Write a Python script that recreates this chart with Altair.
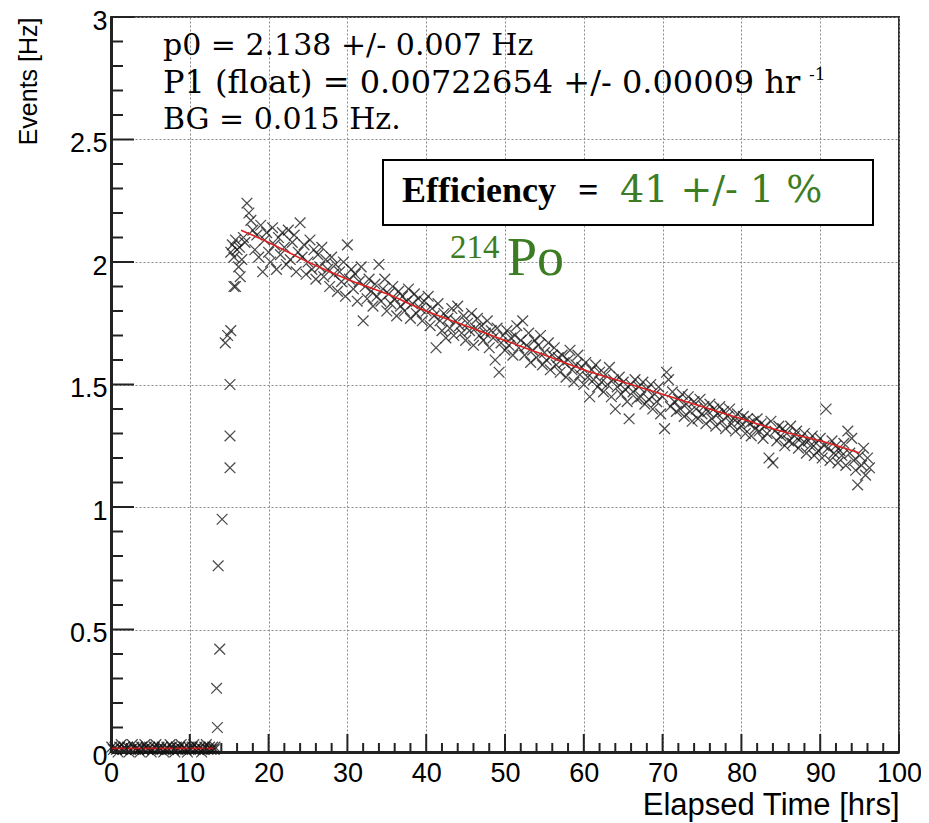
import altair as alt
import pandas as pd

# ---------------- data ----------------
# background period (bins of 0.2 h starting at 0.1 h)
BASE_START, BASE_STEP = 0.1, 0.2
base_y = [0.02, 0.01, 0.02, 0.01, 0.00, 0.02, 0.03, 0.01, 0.02, 0.01,
          0.02, 0.00, 0.01, 0.03, 0.02, 0.01, 0.02, 0.01, 0.00, 0.02,
          0.01, 0.03, 0.02, 0.01, 0.02, 0.00, 0.01, 0.02, 0.03, 0.01,
          0.02, 0.01, 0.02, 0.00, 0.01, 0.02, 0.01, 0.03, 0.02, 0.01,
          0.00, 0.02, 0.01, 0.02, 0.03, 0.01, 0.02, 0.01, 0.00, 0.02,
          0.01, 0.02, 0.03, 0.01, 0.02, 0.01, 0.02, 0.00, 0.01, 0.02,
          0.03, 0.01, 0.02, 0.01, 0.02, 0.01]

# rise of the rate
rise_x = [13.2, 13.5, 13.4, 13.8, 13.6, 14.1, 15.1, 15.1, 15.1, 14.5, 14.8, 15.2,
          15.6, 15.8, 16.4, 16.2, 15.2, 15.4, 15.6, 15.8, 16.0, 16.3, 16.6, 16.8]
rise_y = [0.02, 0.10, 0.26, 0.42, 0.76, 0.95, 1.16, 1.29, 1.50, 1.67, 1.70, 1.72,
          1.90, 1.90, 1.94, 1.98, 2.04, 2.07, 2.02, 2.09, 2.05, 2.06, 2.01, 2.10]

# decay period (bins of 0.25 h starting at 17 h)
DECAY_START, DECAY_STEP = 17.0, 0.25
decay_y = [
    2.08, 2.24, 2.20, 2.17, 2.13, 2.05, 2.11, 2.02, 2.15, 1.96, 2.09, 2.12, 2.04, 2.00, 2.14, 2.07, 1.97, 2.10, 2.03, 2.12,
    2.06, 1.99, 2.13, 2.01, 2.08, 2.11, 1.96, 2.04, 2.16, 2.02, 2.07, 1.95, 2.00, 2.09, 1.97, 2.05, 1.93, 2.03, 1.98, 2.06,
    1.94, 2.01, 1.97, 1.90, 2.02, 1.95, 1.99, 1.88, 1.96, 1.92, 2.00, 1.86, 2.07, 1.93, 1.97, 1.89, 1.95, 1.84, 1.92, 1.98,
    1.76, 1.90, 1.85, 1.93, 1.88, 1.82, 1.91, 1.86, 1.99, 1.84, 1.89, 1.93, 1.80, 1.87, 1.83, 1.90, 1.85, 1.78, 1.88, 1.82,
    1.86, 1.80, 1.84, 1.89, 1.77, 1.83, 1.87, 1.79, 1.85, 1.81, 1.76, 1.84, 1.80, 1.86, 1.74, 1.81, 1.78, 1.65, 1.83, 1.76,
    1.72, 1.79, 1.69, 1.77, 1.73, 1.81, 1.70, 1.76, 1.82, 1.74, 1.71, 1.78, 1.68, 1.75, 1.72, 1.79, 1.66, 1.73, 1.77, 1.70,
    1.74, 1.68, 1.71, 1.76, 1.65, 1.72, 1.69, 1.60, 1.73, 1.55, 1.67, 1.70, 1.64, 1.72, 1.66, 1.69, 1.62, 1.70, 1.74, 1.65,
    1.68, 1.76, 1.62, 1.66, 1.71, 1.59, 1.64, 1.68, 1.61, 1.66, 1.70, 1.58, 1.63, 1.60, 1.67, 1.56, 1.62, 1.65, 1.58, 1.61,
    1.55, 1.62, 1.59, 1.53, 1.60, 1.64, 1.56, 1.51, 1.58, 1.62, 1.54, 1.57, 1.50, 1.59, 1.53, 1.45, 1.56, 1.52, 1.58, 1.49,
    1.55, 1.51, 1.47, 1.54, 1.50, 1.57, 1.45, 1.52, 1.40, 1.49, 1.53, 1.46, 1.51, 1.48, 1.43, 1.36, 1.50, 1.47, 1.52, 1.44,
    1.49, 1.45, 1.51, 1.42, 1.48, 1.44, 1.50, 1.40, 1.46, 1.43, 1.49, 1.38, 1.45, 1.32, 1.55, 1.52, 1.41, 1.47, 1.43, 1.39,
    1.44, 1.40, 1.46, 1.37, 1.42, 1.45, 1.39, 1.35, 1.43, 1.40, 1.36, 1.44, 1.38, 1.41, 1.34, 1.39, 1.42, 1.36, 1.40, 1.33,
    1.38, 1.41, 1.35, 1.39, 1.32, 1.37, 1.40, 1.34, 1.36, 1.31, 1.38, 1.35, 1.33, 1.37, 1.30, 1.36, 1.34, 1.29, 1.35, 1.32,
    1.36, 1.31, 1.34, 1.28, 1.33, 1.30, 1.20, 1.35, 1.18, 1.31, 1.27, 1.33, 1.29, 1.32, 1.25, 1.30, 1.27, 1.33, 1.26, 1.29,
    1.31, 1.24, 1.28, 1.26, 1.30, 1.22, 1.27, 1.25, 1.29, 1.21, 1.26, 1.23, 1.28, 1.20, 1.25, 1.40, 1.24, 1.19, 1.27, 1.22,
    1.25, 1.18, 1.23, 1.21, 1.26, 1.17, 1.31, 1.22, 1.28, 1.19, 1.15, 1.09, 1.21, 1.17, 1.24, 1.13, 1.20, 1.16,
]

# fitted curve (red)
fit_x = [16.5, 20, 25, 30, 35, 40, 45, 50, 55, 60, 65, 70, 75, 80, 85, 90, 95]
fit_y = [2.13, 2.08, 2.00, 1.93, 1.87, 1.80, 1.74, 1.68, 1.62, 1.56, 1.51, 1.46, 1.41, 1.36, 1.31, 1.27, 1.22]
bg_fit_x = [0, 13]
bg_fit_y = [0.015, 0.015]

# axis ticks
x_major = [0, 10, 20, 30, 40, 50, 60, 70, 80, 90, 100]
x_minor = [v for v in range(0, 101, 2) if v % 10]
y_major = [0, 0.5, 1, 1.5, 2, 2.5, 3]
y_minor = [round(v / 10, 1) for v in range(0, 31) if v % 5]

# ---------------- build tables ----------------
pts = pd.DataFrame({
    "t": [BASE_START + BASE_STEP * i for i in range(len(base_y))] + rise_x
         + [DECAY_START + DECAY_STEP * i for i in range(len(decay_y))],
    "rate": base_y + rise_y + decay_y,
})
fit = pd.DataFrame({"t": fit_x, "rate": fit_y})
bgfit = pd.DataFrame({"t": bg_fit_x, "rate": bg_fit_y})

W, H = 788, 735
XS = alt.Scale(domain=[0, 100], nice=False, zero=False)
YS = alt.Scale(domain=[0, 3], nice=False, zero=False)
SANS = "Liberation Sans"
SERIF = "DejaVu Serif"
SERIF2 = "Liberation Serif"
GREEN = "#3c7d23"

x_axis = alt.Axis(values=x_major, grid=True, gridDash=[2, 2], gridColor="#8a8a8a",
                  gridWidth=1, tickSize=0, labelPadding=8, labelFontSize=27,
                  labelFont=SANS, labelColor="black", labelFlush=False,
                  domainWidth=3, domainColor="#222", title="Elapsed Time [hrs]",
                  titleFont=SANS, titleFontSize=31, titleFontWeight="normal",
                  titleColor="black", titleX=W, titleY=62, titleAlign="right",
                  titleBaseline="alphabetic")
y_axis = alt.Axis(values=y_major, format="~g", grid=True, gridDash=[2, 2],
                  gridColor="#8a8a8a", gridWidth=1, tickSize=0, labelPadding=4,
                  labelFontSize=27, labelFont=SANS, labelColor="black",
                  labelFlush=False, labelOffset=4, domainWidth=3, domainColor="#222",
                  title="Events [Hz]", titleFont=SANS, titleFontSize=25,
                  titleFontWeight="normal", titleColor="black", titleAngle=-90,
                  titleX=-83, titleY=0, titleAlign="right", titleBaseline="middle")


def X(field):
    return alt.X(field, scale=XS, axis=x_axis)


def Y(field):
    return alt.Y(field, scale=YS, axis=y_axis)


CROSS = "M-1,-1L1,1M-1,1L1,-1"
scatter = alt.Chart(pts).mark_point(shape=CROSS, size=115, filled=False,
                                    stroke="#111", strokeWidth=1.3, opacity=0.75).encode(
    x=X("t:Q"), y=Y("rate:Q"))

fit_line = alt.Chart(fit).mark_line(color="#e02020", strokeWidth=1.6, interpolate="monotone").encode(
    x=X("t:Q"), y=Y("rate:Q"))
bg_line = alt.Chart(bgfit).mark_line(color="#c01818", strokeWidth=1.6).encode(
    x=X("t:Q"), y=Y("rate:Q"))

TICK_C = "#222"
xmaj = alt.Chart(pd.DataFrame({"t": x_major})).mark_rule(color=TICK_C, strokeWidth=2).encode(
    x=X("t:Q"), y=alt.value(H), y2=alt.value(H - 18))
xmin = alt.Chart(pd.DataFrame({"t": x_minor})).mark_rule(color=TICK_C, strokeWidth=2).encode(
    x=X("t:Q"), y=alt.value(H), y2=alt.value(H - 9))
ymaj = alt.Chart(pd.DataFrame({"rate": y_major})).mark_rule(color=TICK_C, strokeWidth=2).encode(
    y=Y("rate:Q"), x=alt.value(0), x2=alt.value(23))
ymin = alt.Chart(pd.DataFrame({"rate": y_minor})).mark_rule(color=TICK_C, strokeWidth=2).encode(
    y=Y("rate:Q"), x=alt.value(0), x2=alt.value(12))

one = pd.DataFrame({"a": [0]})


def label(text, x, y, size, color="black", font=SERIF, weight="normal", align="left"):
    return alt.Chart(one).mark_text(text=text, fontSize=size, color=color, font=font,
                                    fontWeight=weight, align=align,
                                    baseline="alphabetic").encode(
        x=alt.value(x), y=alt.value(y))


box = alt.Chart(one).mark_rect(fill="white", stroke="black", strokeWidth=2).encode(
    x=alt.value(272), x2=alt.value(762), y=alt.value(143), y2=alt.value(208))

texts = [
    label("p0 = 2.138 +/- 0.007 Hz", 52, 38, 30),
    label("P1 (float) = 0.00722654 +/- 0.00009 hr", 52, 76, 32),
    label("-1", 698, 63, 17),
    label("BG = 0.015 Hz.", 52, 112, 30),
    label("Efficiency", 291, 185, 36, font=SERIF2, weight="bold"),
    label("=", 467, 185, 36, font=SERIF2, weight="bold"),
    label("41 +/- 1 %", 509, 185, 38, color=GREEN),
    label("214", 339, 241, 33, color=GREEN, font=SERIF2),
    label("Po", 396, 258, 54, color=GREEN, font=SERIF2),
]

chart = alt.layer(
    scatter, bg_line, fit_line, xmaj, xmin, ymaj, ymin, box, *texts
).properties(
    width=W, height=H,
    autosize=alt.AutoSizeParams(type="none"),
    padding={"left": 103, "top": 9, "right": 22, "bottom": 70},
    background="white",
).configure_view(stroke="#333", strokeWidth=2)

chart.save("out.html", embed_options={"renderer": "svg", "actions": False})
